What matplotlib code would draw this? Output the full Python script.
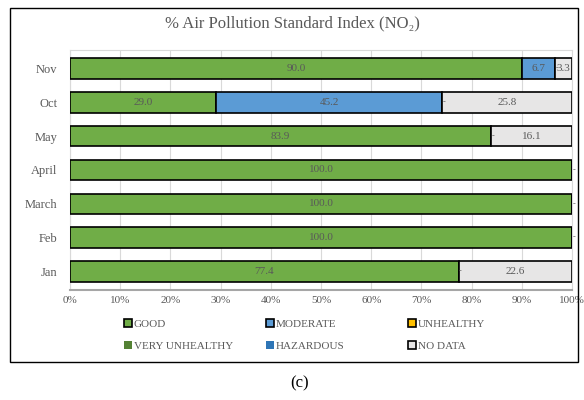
import matplotlib
matplotlib.use("Agg")
import matplotlib.pyplot as plt
from matplotlib.patches import Rectangle, Patch
import numpy as np

plt.rcParams['font.family'] = ['Liberation Serif', 'DejaVu Serif']

months = ["Jan", "Feb", "March", "April", "May", "Oct", "Nov"]
good = [77.4, 100.0, 100.0, 100.0, 83.9, 29.0, 90.0]
moderate = [0, 0, 0, 0, 0, 45.2, 6.7]
unhealthy = [0, 0, 0, 0, 0, 0, 0]
very_unhealthy = [0, 0, 0, 0, 0, 0, 0]
hazardous = [0, 0, 0, 0, 0, 0, 0]
no_data = [22.6, 0, 0, 0, 16.1, 25.8, 3.3]

series = [
    ("GOOD", good, "#70AD47", True),
    ("MODERATE", moderate, "#5B9BD5", True),
    ("UNHEALTHY", unhealthy, "#FFC000", True),
    ("VERY UNHEALTHY", very_unhealthy, "#548235", False),
    ("HAZARDOUS", hazardous, "#2E75B6", False),
    ("NO DATA", no_data, "#E7E6E6", True),
]

txt = "#595959"
fig = plt.figure(figsize=(5.84, 4.0), dpi=100)
ax = fig.add_axes([70/584, 1-290/400, (572-70)/584, (290-50)/400])

y = np.arange(len(months))
left = np.zeros(len(months))
handles = {}
dashes = [set() for _ in months]
for name, vals, col, edged in series:
    vals = np.array(vals, dtype=float)
    ax.barh(y, vals, left=left, height=0.6, color=col, edgecolor="black",
            linewidth=1.2, zorder=3)
    for i, v in enumerate(vals):
        cx = left[i] + v / 2
        if v > 0:
            ax.text(cx, y[i], f"{v:.1f}", ha="center", va="center",
                    fontsize=8, color=txt, zorder=4)
        elif round(cx, 1) not in dashes[i]:
            dashes[i].add(round(cx, 1))
            ax.text(cx + 0.4, y[i], "-", ha="center", va="center",
                    fontsize=6, color=txt, zorder=4)
    left += vals
    if edged:
        handles[name] = Patch(facecolor=col, edgecolor="black", linewidth=1.2)
    else:
        handles[name] = Patch(facecolor=col, edgecolor=col, linewidth=0)

ax.set_xlim(0, 100)
ax.set_ylim(-0.55, len(months) - 0.45)
ax.set_xticks(np.arange(0, 101, 10))
ax.set_xticklabels([f"{v}%" for v in range(0, 101, 10)], fontsize=8, color=txt)
ax.set_yticks(y)
ax.set_yticklabels(months, fontsize=9, color=txt)
ax.tick_params(axis="y", length=0, pad=9)
ax.tick_params(axis="x", length=0, pad=4)
ax.grid(axis="x", color="#D9D9D9", linewidth=0.8, zorder=0)
for s in ["top", "right"]:
    ax.spines[s].set_color("#D9D9D9")
    ax.spines[s].set_linewidth(0.8)
ax.spines["left"].set_color("#D9D9D9")
ax.spines["bottom"].set_color("#A6A6A6")
ax.spines["bottom"].set_linewidth(1.5)

fig.text(0.5, 1 - 23/400, "% Air Pollution Standard Index (NO₂)", ha="center",
         va="center", fontsize=12, color=txt)

columns = [["GOOD", "VERY UNHEALTHY"], ["MODERATE", "HAZARDOUS"],
           ["UNHEALTHY", "NO DATA"]]
col_x = [124, 266, 408]
for cx, names in zip(col_x, columns):
    fig.legend([handles[n] for n in names], names, loc="upper left",
               bbox_to_anchor=(cx/584, 1 - 319/400), frameon=False,
               fontsize=8, labelcolor=txt, handlelength=0.7,
               handleheight=0.7, handletextpad=0.2, labelspacing=1.1,
               borderpad=0, borderaxespad=0)

fig.add_artist(Rectangle((10/584, 1 - 362/400), (578-10)/584, (362-8)/400,
                         transform=fig.transFigure, fill=False,
                         edgecolor="black", linewidth=1.0))
fig.text(300/584, 1 - 383/400, "(c)", ha="center", va="center", fontsize=12,
         color="black")

fig.savefig("out.png", dpi=100)
